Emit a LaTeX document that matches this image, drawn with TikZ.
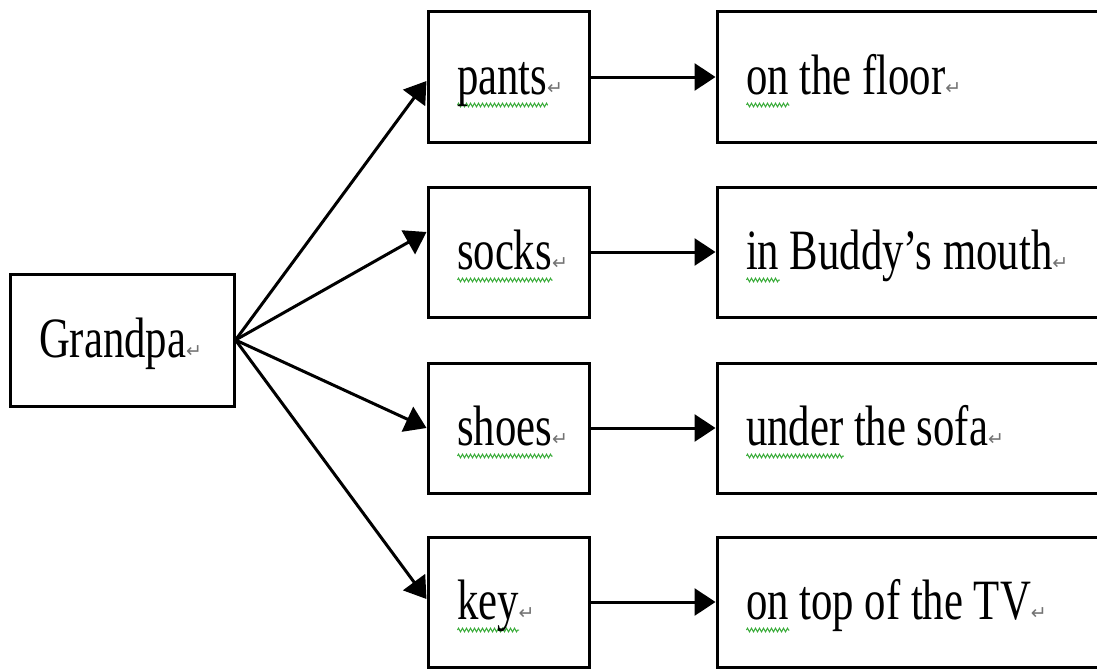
\documentclass[tikz,border=0pt]{standalone}
\usepackage{fontspec}
\setmainfont{Liberation Serif}[FakeStretch=0.75]
\newfontfamily\markfont{DejaVu Sans}
\usetikzlibrary{arrows.meta,decorations.pathmorphing}

\definecolor{spellgreen}{RGB}{55,170,55}
\definecolor{markgray}{RGB}{115,115,115}

\newsavebox\wavebox
\newcommand\spellwave[1]{\sbox\wavebox{#1}\rlap{\tikz[baseline=0pt]\draw[spellgreen, line width=1pt,
  decorate, decoration={zigzag, segment length=4pt, amplitude=1.8pt}] (0pt,-11pt) -- (\the\wd\wavebox,-11pt);}\usebox\wavebox}
\newcommand\retmark{{\markfont\fontsize{19}{19}\selectfont\textcolor{markgray}{↵}}}

\tikzset{
  wordbox/.style={draw, line width=3pt, inner xsep=29pt, inner ysep=0pt,
    text height=40pt, text depth=6pt, minimum height=130pt, align=flush left,
    font=\fontsize{57}{60}\selectfont},
  namebox/.style={wordbox, text width=166pt, minimum height=132pt},
  thingbox/.style={wordbox, text width=103pt},
  placebox/.style={wordbox, text width=362pt},
  link/.style={-{Triangle[length=21pt,width=27pt]}, line width=3pt}
}

\begin{document}
\begin{tikzpicture}[x=1pt,y=-1pt]
  \fill[white] (0,0) rectangle (1097,669);
  \useasboundingbox (0,0) rectangle (1097,669);

  \node[namebox] (grandpa) at (122,340) {Grandpa\retmark};

  \node[thingbox] (pants) at (508.5,77)  {\spellwave{pants}\retmark};
  \node[thingbox] (socks) at (508.5,252) {\spellwave{socks}\retmark};
  \node[thingbox] (shoes) at (508.5,428) {\spellwave{shoes}\retmark};
  \node[thingbox] (key)   at (508.5,602) {\spellwave{key}\retmark};

  \node[placebox] (floor) at (927,77)  {\spellwave{on} the floor\retmark};
  \node[placebox] (mouth) at (927,252) {\spellwave{in} Buddy’s mouth\retmark};
  \node[placebox] (sofa)  at (927,428) {\spellwave{under} the sofa\retmark};
  \node[placebox] (tv)    at (927,602) {\spellwave{on} top of the TV\retmark};

  \draw[link] (grandpa.east) -- ([yshift=-4pt]pants.west);
  \draw[link] (grandpa.east) -- ([yshift=20pt]socks.west);
  \draw[link] (grandpa.east) -- (shoes.west);
  \draw[link] (grandpa.east) -- ([yshift=3pt]key.west);

  \draw[link] (pants.east) -- (floor.west);
  \draw[link] (socks.east) -- (mouth.west);
  \draw[link] (shoes.east) -- (sofa.west);
  \draw[link] (key.east) -- (tv.west);
\end{tikzpicture}
\end{document}
